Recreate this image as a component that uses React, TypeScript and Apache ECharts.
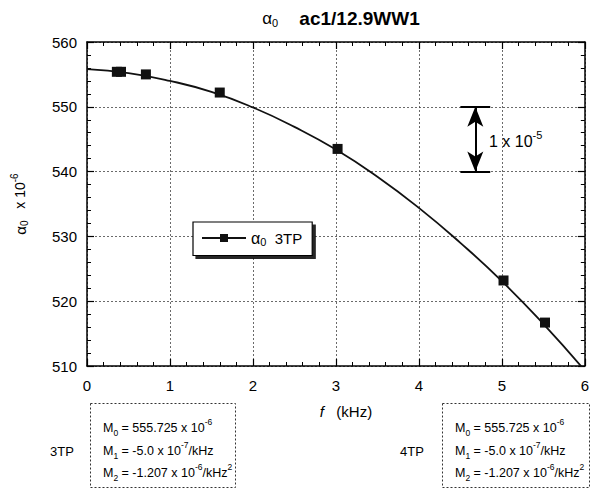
import React, { useEffect, useRef } from "react";
import * as echarts from "echarts";

const measF = [0.36, 0.41, 0.71, 1.6, 3.02, 5.02, 5.52];
const measAlpha = [555.4, 555.4, 555.0, 552.2, 543.5, 523.2, 516.7];
const fitF = [0, 0.5, 1, 1.5, 2, 2.5, 3, 3.5, 4, 4.5, 5, 5.5, 6];
const fitAlpha = [555.8, 555.2, 554.0, 552.3, 549.9, 546.9, 543.4, 539.2, 534.4, 529.0, 523.1, 516.5, 509.3];
const xTicks = { min: 0, max: 6, interval: 1 };
const yTicks = { min: 510, max: 560, interval: 10 };
const scaleBar = { f: 4.68, barFrom: 4.5, barTo: 4.86, top: 550, bottom: 540 };
const seriesName = "α0 3TP";
const boxLines = [
  ["0", " = 555.725 x 10", "-6", "", ""],
  ["1", " = -5.0 x 10", "-7", "/kHz", ""],
  ["2", " = -1.207 x 10", "-6", "/kHz", "2"],
];

const FONT = "'Liberation Sans', Arial, Helvetica, sans-serif";

const richBox = {
  t: { fontSize: 12.5, fontFamily: FONT, fill: "#000" },
  sub: { fontSize: 8.5, fontFamily: FONT, fill: "#000", padding: [10, 0, 0, 0] },
  sup: { fontSize: 8.5, fontFamily: FONT, fill: "#000", padding: [0, 0, 12, 0] },
};

const lineText = (l: string[]) =>
  `{t|M}{sub|${l[0]}}{t|${l[1]}}{sup|${l[2]}}` + (l[3] ? `{t|${l[3]}}` : "") + (l[4] ? `{sup|${l[4]}}` : "");

export default function App() {
  const ref = useRef<HTMLDivElement>(null);
  useEffect(() => {
    const chart = echarts.init(ref.current!, null, { renderer: "svg" });
    const axisLineStyle = { color: "#000", width: 1.5 };
    const mkX = (pos: string, labels: boolean) => ({
      type: "value",
      position: pos,
      ...xTicks,
      axisLine: { show: true, onZero: false, lineStyle: axisLineStyle },
      axisTick: { show: true, inside: true, length: 7, lineStyle: { color: "#000", width: 1.2 } },
      minorTick: { show: true, splitNumber: 5, length: 4, lineStyle: { color: "#000", width: 1 } },
      splitLine: { show: labels, lineStyle: { type: [2, 2], color: "#444", width: 0.8 } },
      axisLabel: { show: labels, color: "#000", fontSize: 15, fontFamily: FONT, margin: 12 },
      name: labels ? "{i|f}{n|   (kHz)}" : "",
      nameLocation: "middle",
      nameGap: 38,
      nameTextStyle: {
        padding: [0, 0, 0, 20],
        rich: {
          i: { fontSize: 15, fontStyle: "italic", fontFamily: FONT, color: "#000" },
          n: { fontSize: 15, fontFamily: FONT, color: "#000" },
        },
      },
    });
    const mkY = (pos: string, labels: boolean) => ({
      type: "value",
      position: pos,
      ...yTicks,
      axisLine: { show: true, onZero: false, lineStyle: axisLineStyle },
      axisTick: { show: true, inside: true, length: 7, lineStyle: { color: "#000", width: 1.2 } },
      minorTick: { show: true, splitNumber: 5, length: 4, lineStyle: { color: "#000", width: 1 } },
      splitLine: { show: labels, lineStyle: { type: [2, 2], color: "#444", width: 0.8 } },
      axisLabel: { show: labels, color: "#000", fontSize: 15, fontFamily: FONT, margin: 10 },
      name: labels ? "{a|α}{s|0}{n|   x 10}{p|-6}" : "",
      nameLocation: "middle",
      nameGap: 56,
      nameRotate: 90,
      nameTextStyle: {
        rich: {
          a: { fontSize: 15, fontFamily: FONT, color: "#000" },
          s: { fontSize: 10, fontFamily: FONT, color: "#000", padding: [8, 0, 0, 0] },
          n: { fontSize: 14, fontFamily: FONT, color: "#000" },
          p: { fontSize: 10, fontFamily: FONT, color: "#000", padding: [0, 0, 12, 0] },
        },
      },
    });

    const graphics: any[] = [
      {
        type: "text",
        x: 341,
        y: 18,
        style: {
          text: "{a|α}{s|0}{b|    ac1/12.9WW1}",
          align: "center",
          verticalAlign: "middle",
          rich: {
            a: { fontSize: 17, fontFamily: FONT, fill: "#000" },
            s: { fontSize: 11, fontFamily: FONT, fill: "#000", padding: [9, 0, 0, 0] },
            b: { fontSize: 19, fontWeight: "bold", fontFamily: FONT, fill: "#000" },
          },
        },
      },
      {
        type: "text",
        x: 489,
        y: 141,
        style: {
          text: "{t|1 x 10}{p|-5}",
          verticalAlign: "middle",
          rich: {
            t: { fontSize: 16, fontFamily: FONT, fill: "#000" },
            p: { fontSize: 11, fontFamily: FONT, fill: "#000", padding: [0, 0, 13, 0] },
          },
        },
      },
      {
        type: "rect",
        shape: { x: 90.5, y: 403.5, width: 145, height: 84 },
        style: { fill: "none", stroke: "#333", lineWidth: 1, lineDash: [2, 2] },
      },
      {
        type: "rect",
        shape: { x: 442.5, y: 403.5, width: 147, height: 84 },
        style: { fill: "none", stroke: "#333", lineWidth: 1, lineDash: [2, 2] },
      },
      {
        type: "text",
        x: 62,
        y: 451,
        style: { text: "3TP", align: "center", verticalAlign: "middle", fontSize: 13, fontFamily: FONT, fill: "#000" },
      },
      {
        type: "text",
        x: 412,
        y: 451,
        style: { text: "4TP", align: "center", verticalAlign: "middle", fontSize: 13, fontFamily: FONT, fill: "#000" },
      },
    ];
    const lineYs = [428, 451, 473];
    [103, 455].forEach((bx) => {
      boxLines.forEach((l, i) => {
        graphics.push({
          type: "text",
          x: bx,
          y: lineYs[i],
          style: { text: lineText(l), verticalAlign: "middle", rich: richBox },
        });
      });
    });

    const option: any = {
      animation: false,
      grid: { left: 87, right: 4, top: 42, bottom: 125, containLabel: false },
      xAxis: [mkX("bottom", true), mkX("top", false)],
      yAxis: [mkY("left", true), mkY("right", false)],
      legend: {
        show: true,
        data: [seriesName],
        left: 193,
        top: 222,
        orient: "horizontal",
        padding: [8, 10, 8, 8],
        itemWidth: 44,
        itemHeight: 10,
        backgroundColor: "#fff",
        borderColor: "#000",
        borderWidth: 1.2,
        shadowColor: "rgba(0,0,0,0.85)",
        shadowBlur: 1,
        shadowOffsetX: 3,
        shadowOffsetY: 3,
        formatter: () => "{a|α}{s|0}{b|  3TP}",
        textStyle: {
          rich: {
            a: { fontSize: 16, fontFamily: FONT, color: "#000" },
            s: { fontSize: 11, fontFamily: FONT, color: "#000", padding: [8, 0, 0, 0] },
            b: { fontSize: 15, fontFamily: FONT, color: "#000" },
          },
        },
      },
      graphic: graphics,
      series: [
        {
          name: seriesName,
          type: "line",
          data: fitF.map((f, i) => [f, fitAlpha[i]]),
          smooth: true,
          showSymbol: false,
          symbol: "rect",
          symbolSize: 9,
          clip: true,
          itemStyle: { color: "#111" },
          lineStyle: { color: "#111", width: 1.8 },
          z: 3,
        },
        {
          name: "points",
          type: "scatter",
          data: measF.map((f, i) => [f, measAlpha[i]]),
          symbol: "rect",
          symbolSize: 10,
          itemStyle: { color: "#111", opacity: 1 },
          z: 4,
        },
        {
          name: "scale",
          type: "line",
          data: [],
          markLine: {
            silent: true,
            symbol: "none",
            label: { show: false },
            lineStyle: { color: "#000", width: 2, type: "solid" },
            data: [
              [{ coord: [scaleBar.barFrom, scaleBar.top] }, { coord: [scaleBar.barTo, scaleBar.top] }],
              [{ coord: [scaleBar.barFrom, scaleBar.bottom] }, { coord: [scaleBar.barTo, scaleBar.bottom] }],
              [
                { coord: [scaleBar.f, scaleBar.top], symbol: "arrow", symbolSize: [12, 20] },
                { coord: [scaleBar.f, scaleBar.bottom], symbol: "arrow", symbolSize: [12, 20] },
              ],
            ],
          },
        },
      ],
    };
    chart.setOption(option);
    return () => chart.dispose();
  }, []);
  return <div ref={ref} style={{ width: 592, height: 491, position: "absolute", left: 0, top: 0 }} />;
}
